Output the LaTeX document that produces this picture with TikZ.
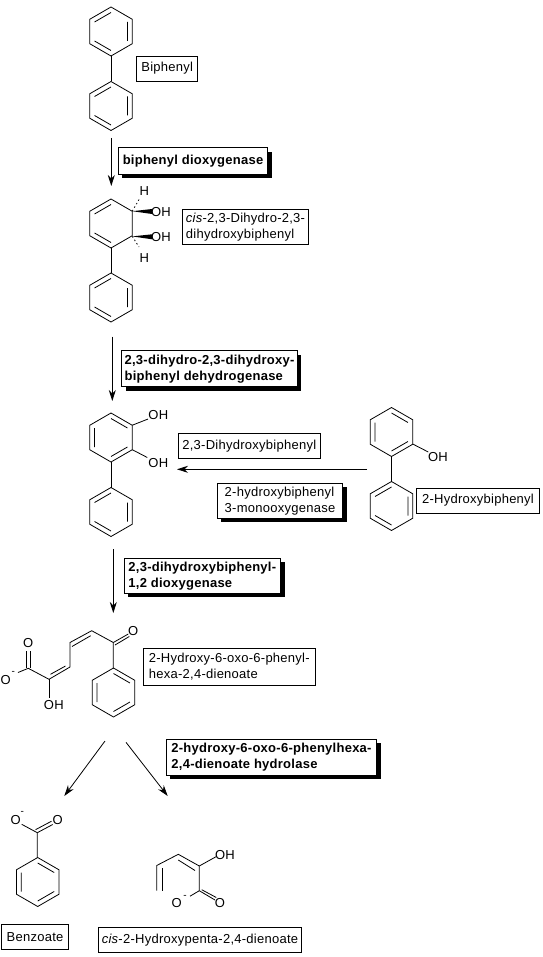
\documentclass[tikz,border=0pt]{standalone}
\usepackage{fontspec}
\setmainfont{Liberation Sans}[LetterSpace=2]
\usetikzlibrary{arrows.meta, shadows}

\newcommand{\outerhex}{\draw[bond] (270:24.5) -- (330:24.5) -- (30:24.5) -- (90:24.5) -- (150:24.5) -- (210:24.5) -- cycle;}

\tikzset{
  bond/.style={line width=0.8pt, line join=miter},
  hashbond/.style={bond, dash pattern=on 1.5pt off 2.5pt},
  rxn/.style={line width=0.8pt, -{Stealth[length=11pt, width=7pt]}},
  atom/.style={inner sep=0pt},
  charge/.style={inner sep=0pt, font=\fontsize{10}{10}\selectfont},
  namebox/.style={draw, fill=white, line width=0.8pt, inner sep=1pt, align=left},
  enzymebox/.style={namebox, drop shadow={shadow xshift=4pt, shadow yshift=-4pt, fill=black, opacity=1}},
  ringa/.pic={\outerhex
    \draw[bond] (210:19) -- (270:19) (-30:19) -- (30:19) (90:19) -- (150:19);},
  ringb/.pic={\outerhex
    \draw[bond] (270:19) -- (330:19) (150:19) -- (210:19) (30:19) -- (90:19);},
  ringc/.pic={\outerhex
    \draw[bond] (210:19) -- (270:19) (90:19) -- (150:19);},
}

\begin{document}
\begin{tikzpicture}[x=1pt, y=-1pt, font=\fontsize{13}{16}\selectfont, line width=0.8pt]
  \useasboundingbox (0,0) rectangle (542,957);

  % Biphenyl
  \pic at (111,31.5) {ringa};
  \pic at (111,106) {ringa};
  \draw[bond] (111,56) -- (111,81);
  \node[namebox, minimum width=61pt, minimum height=25pt] (biphenyl) at (167.2,68.5) {Biphenyl};

  % first enzyme step
  \coordinate (biphenylout) at (111.3,138);
  \coordinate (dihydroin) at (111.3,186);
  \draw[rxn] (biphenylout) -- (dihydroin);
  \node[enzymebox, font=\fontsize{13}{16}\selectfont\bfseries, minimum width=149.4pt, minimum height=26.6pt] (bphA) at (193,161) {biphenyl dioxygenase};

  % cis-dihydrodiol
  \pic at (111,223.5) {ringc};
  \pic at (111,297.5) {ringa};
  \draw[bond] (111,248) -- (111,273);
  \node[atom] (oh1) at (161,212.3) {OH};
  \node[atom] (oh2) at (161,236.9) {OH};
  \node[atom] (h1) at (144.3,191.5) {H};
  \node[atom] (h2) at (144.3,258.3) {H};
  \fill (132.3,211.2) -- (152,209) -- (152,214) -- cycle;
  \fill (132.3,236.4) -- (152,234.3) -- (152,239.3) -- cycle;
  \draw[hashbond] (132.3,211.2) -- (139,199.5);
  \draw[hashbond] (132.3,236.4) -- (139,247);
  \node[namebox, minimum width=126.4pt, minimum height=35pt] (dihydrodiol) at (245.5,226.8) {\textit{cis}-2,3-Dihydro-2,3-\\dihydroxybiphenyl};

  % second enzyme step
  \coordinate (dihydroout) at (112.3,336.7);
  \coordinate (catecholin) at (112.3,401);
  \draw[rxn] (dihydroout) -- (catecholin);
  \node[enzymebox, font=\fontsize{13}{16}\selectfont\bfseries, minimum width=175.6pt, minimum height=36pt] (bphB) at (209.5,368.7) {2,3-dihydro-2,3-dihydroxy-\\biphenyl dehydrogenase};

  % 2,3-Dihydroxybiphenyl
  \pic at (111,437.5) {ringb};
  \pic at (111,512) {ringa};
  \draw[bond] (111,462) -- (111,488);
  \node[atom] (oh3) at (158.3,415) {OH};
  \node[atom] (oh4) at (158.3,463.3) {OH};
  \draw[bond] (132.3,425.2) -- (oh3);
  \draw[bond] (132.3,449.7) -- (147.3,457.5);
  \node[namebox, minimum width=141.3pt, minimum height=25pt] (catechol) at (249.3,445.8) {2,3-Dihydroxybiphenyl};

  % 2-Hydroxybiphenyl and side route
  \pic at (391.5,432) {ringb};
  \pic at (391.5,506) {ringa};
  \draw[bond] (391.5,456.5) -- (391.5,481.5);
  \node[atom] (oh5) at (438,457) {OH};
  \draw[bond] (412.7,444) -- (oh5);
  \node[namebox, minimum width=122.6pt, minimum height=25pt] (hydroxybiphenyl) at (478,500.5) {2-Hydroxybiphenyl};
  \coordinate (sideout) at (367,469.3);
  \coordinate (sidein) at (177,469.3);
  \draw[rxn] (sideout) -- (sidein);
  \node[enzymebox, minimum width=125.4pt, minimum height=35pt] (hbpA) at (280,500.8) {2-hydroxybiphenyl\\3-monooxygenase};

  % third enzyme step
  \coordinate (catecholout) at (113.3,549);
  \coordinate (dienoatein) at (113.3,613);
  \draw[rxn] (catecholout) -- (dienoatein);
  \node[enzymebox, font=\fontsize{13}{16}\selectfont\bfseries, minimum width=156.7pt, minimum height=35pt] (bphC) at (202.3,575.8) {2,3-dihydroxybiphenyl-\\1,2 dioxygenase};

  % 2-Hydroxy-6-oxo-6-phenylhexa-2,4-dienoate
  \pic at (113.5,692.5) {ringb};
  \node[atom] (o1) at (28.3,643.3) {O};
  \node[atom] (o2) at (5.7,680.3) {O};
  \node[charge] (minus1) at (13.3,672.5) {-};
  \node[atom] (oh6) at (53.8,705) {OH};
  \node[atom] (o3) at (133.3,630.7) {O};
  \draw[bond] (26.5,668) -- (26.5,651) (30.3,668) -- (30.3,651);
  \draw[bond] (18,672.5) -- (28.3,668.3) -- (49,679.3) -- (70,667) -- (70,642.5) -- (91.7,630.7) -- (113.3,642.5) -- (113.3,668.3);
  \draw[bond] (49,679.3) -- (49,698.3);
  \draw[bond] (50.5,674.3) -- (65.5,666);
  \draw[bond] (72,646.5) -- (90.7,635.7);
  \draw[bond] (113.3,642.5) -- (128.3,634) (115,645) -- (129.3,636.5);
  \node[namebox, minimum width=172pt, minimum height=37pt] (dienoate) at (229.3,666.8) {2-Hydroxy-6-oxo-6-phenyl-\\hexa-2,4-dienoate};

  % hydrolase step
  \coordinate (dienoateoutl) at (105,741);
  \coordinate (benzoatein) at (64.3,796);
  \coordinate (dienoateoutr) at (126,742.3);
  \coordinate (pentadienoatein) at (167.7,796);
  \draw[rxn] (dienoateoutl) -- (benzoatein);
  \draw[rxn] (dienoateoutr) -- (pentadienoatein);
  \node[enzymebox, font=\fontsize{13}{16}\selectfont\bfseries, minimum width=210.4pt, minimum height=35.7pt] (bphD) at (271.5,757.2) {2-hydroxy-6-oxo-6-phenylhexa-\\2,4-dienoate hydrolase};

  % Benzoate
  \pic at (37.7,882) {ringb};
  \node[atom] (o4) at (15.7,820) {O};
  \node[charge] (minus2) at (22.3,812.5) {-};
  \node[atom] (o5) at (57.7,820) {O};
  \draw[bond] (21.7,824.3) -- (37.3,832.7) -- (37.3,857.7);
  \draw[bond] (37.3,832.7) -- (52.7,824.5) (35.5,829.7) -- (51.5,821.2);
  \node[namebox, minimum width=66.6pt, minimum height=25pt] (benzoate) at (35,936.8) {Benzoate};

  % cis-2-Hydroxypenta-2,4-dienoate
  \node[atom] (oh7) at (225,855) {OH};
  \node[atom] (o6) at (176.7,903.5) {O};
  \node[charge] (minus3) at (185,896.7) {-};
  \node[atom] (o7) at (220,903.5) {O};
  \draw[bond] (156.7,890.7) -- (156.7,865.5) -- (178.3,854.3) -- (199.3,866) -- (199.3,890.7) -- (190,896.2);
  \draw[bond] (162.7,890.7) -- (162.7,868);
  \draw[bond] (178.3,860) -- (195,870.5);
  \draw[bond] (199.3,866) -- (216,856.7);
  \draw[bond] (199.3,890.7) -- (215,900) (201.7,889.7) -- (216.3,897.5);
  \node[namebox, minimum width=203.4pt, minimum height=25pt] (pentadienoate) at (200,939.8) {\textit{cis}-2-Hydroxypenta-2,4-dienoate};

\end{tikzpicture}
\end{document}
